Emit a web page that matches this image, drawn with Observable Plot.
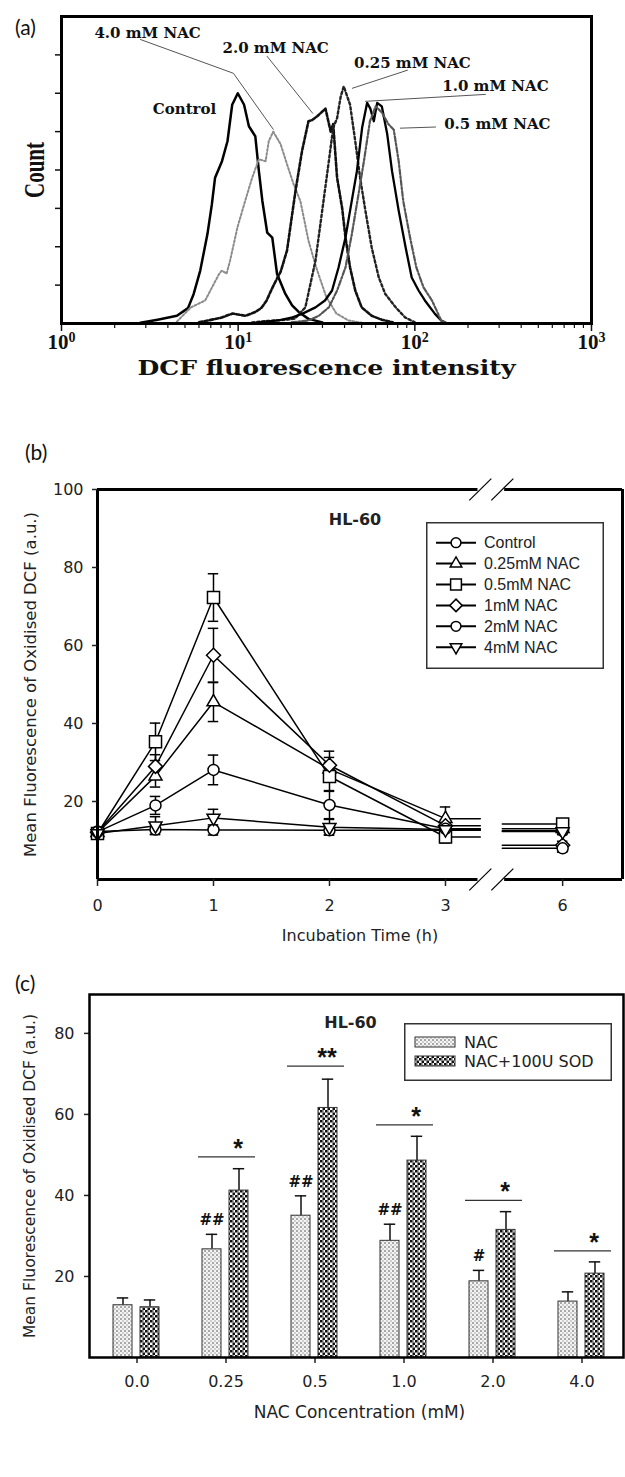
<!DOCTYPE html>
<html>
<head>
<meta charset="utf-8">
<script src="https://cdn.jsdelivr.net/npm/d3@7"></script>
<script src="https://cdn.jsdelivr.net/npm/@observablehq/plot@0.6"></script>
<style>
  body { margin: 0; background: #fff; }
  #root { position: relative; width: 625px; height: 1477px; overflow: hidden; background: #fff; }
  .panel { position: absolute; left: 0; }
  .tag { position: absolute; font-family: Lato, "Open Sans", sans-serif; font-size: 21px; line-height: 21px; color: #111; }
  g[aria-label="annot"] text { letter-spacing: 1.2px; }
</style>
</head>
<body>
<svg width="0" height="0" style="position:absolute">
  <defs>
    <pattern id="patNAC" width="4" height="4" patternUnits="userSpaceOnUse">
      <rect width="4" height="4" fill="#f4f4f4"/>
      <rect width="2" height="2" fill="#a8a8a8"/>
      <rect x="2" y="2" width="2" height="2" fill="#cfcfcf"/>
    </pattern>
    <pattern id="patSOD" width="5" height="5" patternUnits="userSpaceOnUse">
      <rect width="5" height="5" fill="#ffffff"/>
      <rect width="2.5" height="2.5" fill="#111"/>
      <rect x="2.5" y="2.5" width="2.5" height="2.5" fill="#111"/>
      <rect x="2.5" y="0" width="1" height="2.5" fill="#555"/>
    </pattern>
  </defs>
</svg>
<div id="root">
  <div class="tag" style="left:15px;top:16px">(a)</div>
  <div class="tag" style="left:25px;top:441px">(b)</div>
  <div class="tag" style="left:15px;top:972px">(c)</div>
</div>
<script>
// ---------------- Panel (a): DCF histograms ----------------
const histNames = ["Control", "4.0 mM NAC", "2.0 mM NAC", "0.25 mM NAC", "1.0 mM NAC", "0.5 mM NAC"];
const controlX = [2.8, 3.5, 4.5, 5.2, 5.6, 6.1, 6.7, 7.1, 7.4, 8.1, 8.7, 9.25, 9.95, 10.8, 11.5, 12.5, 13.1, 13.7, 14.6, 15.6, 16.6, 18.5, 20.2, 22, 25, 30];
const controlCount = [0.02, 0.1, 0.2, 0.4, 0.77, 1.38, 2.33, 3.11, 3.8, 4.23, 4.75, 5.7, 6.0, 5.7, 5.14, 4.88, 3.97, 3.2, 2.37, 2.24, 1.29, 0.77, 0.47, 0.3, 0.12, 0.03];
const nac40X = [4.5, 5.4, 6.5, 7.8, 8.1, 8.6, 9.0, 9.9, 10.8, 12.0, 13.1, 14.3, 14.9, 15.8, 17.4, 18.9, 20.6, 22.5, 25, 27.7, 31.6, 36, 42, 50];
const nac40Count = [0.05, 0.42, 0.6, 1.29, 1.38, 1.3, 1.64, 2.5, 3.1, 3.8, 4.28, 4.23, 4.75, 5.0, 4.67, 4.15, 3.63, 3.19, 2.16, 1.45, 0.68, 0.26, 0.08, 0.02];
const nac20X = [6, 8, 9.3, 11, 12.5, 13.5, 14.5, 15.5, 16.5, 17.4, 18.9, 21.1, 23, 25, 26.2, 28, 31.2, 33.4, 34.5, 36.3, 38.8, 40.5, 43, 46, 50, 57, 65, 75];
const nac20Count = [0.03, 0.15, 0.26, 0.2, 0.3, 0.4, 0.6, 0.9, 1.15, 1.35, 1.9, 3.45, 4.5, 5.27, 5.3, 5.4, 5.6, 5.0, 5.2, 3.8, 3.0, 2.24, 1.46, 0.86, 0.42, 0.2, 0.1, 0.03];
const nac025X = [12, 16, 19, 21, 24, 27.4, 29.9, 32.6, 34.5, 36.3, 38, 39.6, 43, 46, 49, 52.5, 57, 62.5, 68, 78, 88, 100];
const nac025Count = [0.03, 0.08, 0.1, 0.13, 0.42, 1.64, 2.94, 4.23, 5.1, 5.35, 5.9, 6.18, 5.7, 4.75, 3.8, 2.94, 1.98, 1.2, 0.77, 0.42, 0.16, 0.03];
const nac10X = [13, 17, 20, 23, 27.4, 31, 34, 37, 40.5, 43, 47, 50.3, 53.7, 56, 58.6, 61.2, 65, 69.8, 74.3, 81, 88.7, 96, 105, 114, 130, 141, 150];
const nac10Count = [0.03, 0.08, 0.15, 0.25, 0.42, 0.6, 0.86, 1.46, 2.24, 2.94, 3.97, 5.1, 5.75, 5.6, 5.27, 5.75, 5.66, 4.93, 3.97, 2.94, 1.98, 1.2, 0.86, 0.6, 0.25, 0.08, 0.02];
const nac05X = [20, 25, 28.6, 32.6, 36.3, 40.5, 44, 48, 51.5, 55.7, 60, 65, 71, 76, 81, 86, 94, 102, 112, 125, 141, 150];
const nac05Count = [0.03, 0.08, 0.2, 0.42, 0.86, 1.46, 2.33, 3.37, 4.23, 5.27, 5.66, 5.5, 5.19, 5.05, 4.23, 3.19, 2.24, 1.46, 0.94, 0.6, 0.08, 0.02];
const decadeTicks = [1, 10, 100, 1000];
const countTicks = [1, 2, 3, 4, 5, 6, 7];

// annotation labels (data units) and leader polylines
const annotText = ["4.0 mM NAC", "2.0 mM NAC", "0.25 mM NAC", "1.0 mM NAC", "0.5 mM NAC", "Control"];
const annotX = [3.07, 16.3, 96.9, 286, 293, 4.97];
const annotY = [7.56, 7.17, 6.78, 6.18, 5.19, 5.58];
const leaders = [
  [[2.8, 7.4], [9.4, 6.52], [15.8, 5.06]],
  [[14.6, 6.96], [26.4, 5.48]],
  [[90.8, 6.6], [44.3, 6.13]],
  [[251, 5.97], [52.6, 5.79]],
  [[131, 5.12], [82.8, 5.09]]
];

// ---------------- Panel (b): time course ----------------
const times = [0, 0.5, 1, 2, 3, 6];
const timeSeries = ["Control", "0.25mM NAC", "0.5mM NAC", "1mM NAC", "2mM NAC", "4mM NAC"];
const tcControl = [12.3, 12.8, 12.7, 12.6, 12.6, 12.5];
const tcControlErr = [0.8, 1.2, 1.3, 1.2, 1.0, 0.8];
const tc025 = [12.0, 26.5, 45.5, 28.3, 15.6, 13.0];
const tc025Err = [0.8, 2.8, 5.0, 3.0, 3.0, 0.8];
const tc05 = [11.8, 35.3, 72.3, 26.4, 10.9, 14.2];
const tc05Err = [0.8, 4.8, 6.1, 3.6, 1.5, 1.0];
const tc1 = [12.1, 29.0, 57.5, 29.3, 13.8, 8.8];
const tc1Err = [0.8, 3.0, 6.9, 3.6, 1.5, 1.0];
const tc2 = [12.2, 19.0, 28.1, 19.1, 13.0, 8.0];
const tc2Err = [0.8, 2.3, 3.8, 3.5, 1.5, 1.0];
const tc4 = [11.8, 13.8, 15.8, 13.4, 12.8, 12.3];
const tc4Err = [0.8, 2.3, 2.2, 2.0, 1.5, 0.8];
const yTicksB = [20, 40, 60, 80, 100];

// ---------------- Panel (c): bars ----------------
const concLabels = ["0.0", "0.25", "0.5", "1.0", "2.0", "4.0"];
const nacMean = [12.9, 26.7, 35.0, 28.8, 18.8, 13.8];
const nacErr = [1.8, 3.7, 4.9, 4.1, 2.7, 2.4];
const sodMean = [12.4, 41.2, 61.6, 48.6, 31.5, 20.7];
const sodErr = [1.8, 5.4, 7.1, 6.0, 4.5, 2.9];
const hashLabels = ["", "##", "##", "##", "#", ""];
const sigLabels = ["", "*", "**", "*", "*", "*"];
const sigLevels = [null, 49.5, 71.9, 57.4, 38.8, 26.3];
const yTicksC = [20, 40, 60, 80];

const root = document.getElementById("root");
function place(el, top) {
  const d = document.createElement("div");
  d.className = "panel";
  d.style.top = top + "px";
  d.appendChild(el);
  root.appendChild(d);
}

// ===== build panel (a) =====
const histX = [controlX, nac40X, nac20X, nac025X, nac10X, nac05X];
const histC = [controlCount, nac40Count, nac20Count, nac025Count, nac10Count, nac05Count];
const histStyle = {
  "Control": {stroke: "#000", strokeWidth: 2.5},
  "4.0 mM NAC": {stroke: "#8c8c8c", strokeWidth: 2, strokeDasharray: "2,2"},
  "2.0 mM NAC": {stroke: "#111", strokeWidth: 2.6, strokeDasharray: "3.5,2"},
  "0.25 mM NAC": {stroke: "#222", strokeWidth: 2.4, strokeDasharray: "2.5,2.5"},
  "1.0 mM NAC": {stroke: "#000", strokeWidth: 2.3},
  "0.5 mM NAC": {stroke: "#555", strokeWidth: 2.2, strokeDasharray: "5,2,2,2"}
};
const histMarks = histNames.map((name, k) => {
  const rows = histX[k].map((x, i) => ({x, count: histC[k][i]}));
  return Plot.line(rows, {x: "x", y: "count", ...histStyle[name]});
});
const minorTicks = [];
for (const dec of [1, 10, 100]) for (let m = 2; m <= 9; m++) minorTicks.push(dec * m);
const leaderRows = leaders.flatMap((pts, k) => pts.map(([x, c]) => ({k, x, c})));
const annotRows = annotText.map((t, i) => ({t, x: annotX[i], y: annotY[i]}));

const plotA = Plot.plot({
  width: 625, height: 380,
  marginLeft: 61, marginRight: 34, marginTop: 16, marginBottom: 57,
  x: {type: "log", domain: [1, 1000]},
  y: {domain: [0, 8]},
  style: {fontFamily: "'Liberation Serif', serif", fontSize: "21px", fontWeight: "bold", color: "#111", background: "transparent"},
  marks: [
    ...histMarks,
    Plot.line(leaderRows, {x: "x", y: "c", z: "k", stroke: "#555", strokeWidth: 1}),
    Plot.text(annotRows, {x: "x", y: "y", text: "t", fontFamily: "'DejaVu Serif', serif", fontSize: 15, fontWeight: "bold", textAnchor: "middle", lineAnchor: "middle", fill: "#111", ariaLabel: "annot"}),
    Plot.axisY({ticks: countTicks, tickSize: 6, tickFormat: () => "", label: null, strokeWidth: 1.5}),
    Plot.axisX({ticks: minorTicks, tickSize: 5, tickFormat: () => "", label: null, strokeWidth: 1.2}),
    Plot.axisX({ticks: decadeTicks, tickSize: 8, tickPadding: 3, tickFormat: d => "10^" + Math.round(Math.log10(d)), label: null, strokeWidth: 1.5}),
    Plot.text(["DCF fluorescence intensity"], {frameAnchor: "bottom", dy: 45, textAnchor: "middle", lineAnchor: "middle", fontFamily: "'DejaVu Serif', serif", fontSize: 20, fontWeight: "bold"}),
    Plot.text(["Count"], {frameAnchor: "left", dx: -27, rotate: -90, textAnchor: "middle", lineAnchor: "middle", fontFamily: "'Liberation Serif', serif", fontSize: 29, fontWeight: "bold"}),
    Plot.frame({strokeWidth: 3, stroke: "#000"})
  ]
});
const svgNS = "http://www.w3.org/2000/svg";
plotA.querySelectorAll("text").forEach(t => {
  const m = t.textContent.match(/^10\^(\d)$/);
  if (m) {
    t.textContent = "10";
    const ts = document.createElementNS(svgNS, "tspan");
    ts.setAttribute("dy", "-0.5em");
    ts.setAttribute("font-size", "14px");
    ts.textContent = m[1];
    t.appendChild(ts);
  } else if (t.textContent === "Count") {
    t.setAttribute("textLength", "56");
    t.setAttribute("lengthAdjust", "spacingAndGlyphs");
  } else if (t.textContent === "DCF fluorescence intensity") {
    t.setAttribute("textLength", "378");
    t.setAttribute("lengthAdjust", "spacingAndGlyphs");
  }
});
place(plotA, 0);

// ===== build panel (b) =====
const breakShift = 1.99;          // 6 h is drawn at 4.01 on the broken axis
const gapL = 3.30, gapR = 3.49;   // axis break edges (x units)
const xMaxB = 4.526;
const tpos = t => t <= 3 ? t : t - breakShift;
const tcVals = [tcControl, tc025, tc05, tc1, tc2, tc4];
const tcErrs = [tcControlErr, tc025Err, tc05Err, tc1Err, tc2Err, tc4Err];

const sqrt3 = Math.sqrt(3);
const triDown = {draw(ctx, size) {
  const s = Math.sqrt(size) * 0.6824, t = s / 2, u = s * sqrt3 / 2;
  ctx.moveTo(0, s); ctx.lineTo(-u, -t); ctx.lineTo(u, -t); ctx.closePath();
}};
const seriesSymbol = [d3.symbolCircle, d3.symbolTriangle2, d3.symbolSquare, d3.symbolDiamond2, d3.symbolCircle, triDown];
const seriesR = [5.5, 6.2, 6.8, 6.3, 5.5, 6.2];

const ptRows = [], lineRows = [];
timeSeries.forEach((s, k) => {
  times.forEach((t, i) => ptRows.push({k, s, x: tpos(t), y: tcVals[k][i], e: tcErrs[k][i]}));
  times.forEach((t, i) => { if (t <= 3) lineRows.push({z: s + "a", x: tpos(t), y: tcVals[k][i]}); });
  lineRows.push({z: s + "a", x: gapL, y: tcVals[k][4]});
  lineRows.push({z: s + "b", x: gapR, y: tcVals[k][5]});
  lineRows.push({z: s + "b", x: tpos(6), y: tcVals[k][5]});
});
const capB = 0.045;
const slashRows = [];
for (const yEdge of [0, 100]) for (const c of [gapL, gapR]) slashRows.push({x1: c - 0.095, y1: yEdge - 2.8, x2: c + 0.095, y2: yEdge + 2.8});
const labelForTime = d => { const t = times.find(t => Math.abs(tpos(t) - d) < 1e-6); return t === undefined ? "" : String(t); };
const timeTicks = [0, 1, 2, 3, 6];

const plotB = Plot.plot({
  width: 625, height: 490,
  marginLeft: 97, marginRight: 3, marginTop: 19, marginBottom: 81,
  x: {domain: [0, xMaxB]},
  y: {domain: [0, 100]},
  style: {fontFamily: "'DejaVu Sans', sans-serif", fontSize: "16px", color: "#222", background: "transparent"},
  marks: [
    Plot.line(lineRows, {x: "x", y: "y", z: "z", stroke: "#000", strokeWidth: 1.5}),
    Plot.ruleX(ptRows, {x: "x", y1: d => d.y - d.e, y2: d => d.y + d.e, stroke: "#000", strokeWidth: 1.5}),
    Plot.ruleY(ptRows, {y: d => d.y + d.e, x1: d => d.x - capB, x2: d => d.x + capB, stroke: "#000", strokeWidth: 1.5}),
    Plot.ruleY(ptRows, {y: d => d.y - d.e, x1: d => d.x - capB, x2: d => d.x + capB, stroke: "#000", strokeWidth: 1.5}),
    ...timeSeries.map((s, k) => Plot.dot(ptRows.filter(d => d.k === k), {x: "x", y: "y", symbol: seriesSymbol[k], r: seriesR[k], fill: "#fff", stroke: "#000", strokeWidth: 1.5})),
    Plot.ruleX([0, xMaxB], {y1: 0, y2: 100, stroke: "#000", strokeWidth: 3}),
    Plot.ruleY([0, 100], {x1: 0, x2: gapL - 0.02, stroke: "#000", strokeWidth: 3}),
    Plot.ruleY([0, 100], {x1: gapR + 0.02, x2: xMaxB, stroke: "#000", strokeWidth: 3}),
    Plot.link(slashRows, {x1: "x1", y1: "y1", x2: "x2", y2: "y2", stroke: "#000", strokeWidth: 1.2}),
    Plot.axisY({ticks: yTicksB, tickSize: 5, tickPadding: 9, label: null, strokeWidth: 1.5}),
    Plot.axisX({ticks: timeTicks.map(tpos), tickSize: 7, tickPadding: 13, tickFormat: labelForTime, label: null, strokeWidth: 1.5}),
    Plot.text(["HL-60"], {frameAnchor: "top", dx: -5, dy: 30, textAnchor: "middle", lineAnchor: "middle", fontWeight: "bold", fontSize: 16}),
    Plot.text(["Incubation Time (h)"], {frameAnchor: "bottom", dy: 56, textAnchor: "middle", lineAnchor: "middle", fontSize: 16}),
    Plot.text(["Mean Fluorescence of Oxidised DCF (a.u.)"], {frameAnchor: "left", dx: -67, rotate: -90, textAnchor: "middle", lineAnchor: "middle", fontSize: 16.5})
  ]
});
place(plotB, 470);

// legend (b)
(function () {
  const w = 178, h = 147;
  const svg = d3.create("svg").attr("width", w).attr("height", h)
    .style("position", "absolute").style("left", "426px").style("top", "522px");
  svg.append("rect").attr("x", 0.75).attr("y", 0.75).attr("width", w - 1.5).attr("height", h - 1.5)
    .attr("fill", "#fff").attr("stroke", "#333").attr("stroke-width", 1.5);
  timeSeries.forEach((s, k) => {
    const cy = 20.7 + 20.9 * k;
    svg.append("line").attr("x1", 10).attr("x2", 50).attr("y1", cy).attr("y2", cy).attr("stroke", "#000").attr("stroke-width", 2);
    svg.append("path").attr("transform", `translate(30,${cy})`)
      .attr("d", d3.symbol(seriesSymbol[k], Math.PI * seriesR[k] * seriesR[k] * 0.8)())
      .attr("fill", "#fff").attr("stroke", "#000").attr("stroke-width", 1.5);
    svg.append("text").attr("x", 58).attr("y", cy).attr("dy", "0.36em")
      .attr("font-family", "'Liberation Sans', Arial, sans-serif").attr("font-size", 16).attr("fill", "#222").text(s);
  });
  root.appendChild(svg.node());
})();

// ===== build panel (c) =====
const nacRows = concLabels.map((c, i) => ({c, m: nacMean[i], e: nacErr[i], hash: hashLabels[i]}));
const sodRows = concLabels.map((c, i) => ({c, m: sodMean[i], e: sodErr[i]}));
const sigRows = concLabels.map((c, i) => ({c, level: sigLevels[i], label: sigLabels[i]})).filter(d => d.level != null);
const hashRows = nacRows.filter(d => d.hash);

const plotC = Plot.plot({
  width: 625, height: 487,
  marginLeft: 89, marginRight: 2, marginTop: 4, marginBottom: 120,
  x: {type: "band", domain: concLabels, range: [90, 628], padding: 0},
  y: {domain: [0, 89.6]},
  style: {fontFamily: "'DejaVu Sans', sans-serif", fontSize: "16px", color: "#222", background: "transparent"},
  marks: [
    Plot.ruleX(nacRows, {x: "c", y1: "m", y2: d => d.m + d.e, dx: -14, stroke: "#111", strokeWidth: 1.5}),
    Plot.tickY(nacRows, {x: "c", y: d => d.m + d.e, dx: -14, insetLeft: 38.8, insetRight: 38.8, stroke: "#111", strokeWidth: 1.5}),
    Plot.ruleX(sodRows, {x: "c", y1: "m", y2: d => d.m + d.e, dx: 13, stroke: "#111", strokeWidth: 1.5}),
    Plot.tickY(sodRows, {x: "c", y: d => d.m + d.e, dx: 13, insetLeft: 38.8, insetRight: 38.8, stroke: "#111", strokeWidth: 1.5}),
    Plot.barY(nacRows, {x: "c", y: "m", insetLeft: 21, insetRight: 49, fill: "url(#patNAC)", stroke: "#333", strokeWidth: 1}),
    Plot.barY(sodRows, {x: "c", y: "m", insetLeft: 48, insetRight: 22, fill: "url(#patSOD)", stroke: "#333", strokeWidth: 1}),
    Plot.tickY(sigRows, {x: "c", y: "level", dx: 1, insetLeft: 16, insetRight: 16, stroke: "#333", strokeWidth: 1.3}),
    Plot.text(sigRows, {x: "c", y: "level", text: "label", dx: 12, dy: -8, textAnchor: "middle", lineAnchor: "middle", fontFamily: "'Liberation Sans', Arial, sans-serif", fontWeight: "bold", fontSize: 25, fill: "#111"}),
    Plot.text(hashRows, {x: "c", y: d => d.m + d.e, text: "hash", dx: -14, dy: -14, textAnchor: "middle", lineAnchor: "middle", fontWeight: "bold", fontSize: 15, fill: "#111"}),
    Plot.axisY({ticks: yTicksC, tickSize: 5, tickPadding: 10, label: null, strokeWidth: 1.5}),
    Plot.axisX({tickSize: 6, tickPadding: 12, label: null, strokeWidth: 1.5}),
    Plot.text(["HL-60"], {frameAnchor: "top", dx: -6, dy: 28, textAnchor: "middle", lineAnchor: "middle", fontWeight: "bold", fontSize: 16}),
    Plot.text(["NAC Concentration (mM)"], {frameAnchor: "bottom", dx: 3, dy: 55, textAnchor: "middle", lineAnchor: "middle", fontSize: 17}),
    Plot.text(["Mean Fluorescence of Oxidised DCF (a.u.)"], {frameAnchor: "left", dx: -59, rotate: -90, textAnchor: "middle", lineAnchor: "middle", fontSize: 15.5}),
    Plot.frame({stroke: "#000", strokeWidth: 2.5})
  ]
});
place(plotC, 990);

// legend (c)
(function () {
  const w = 208, h = 58;
  const svg = d3.create("svg").attr("width", w).attr("height", h)
    .style("position", "absolute").style("left", "404px").style("top", "1023px");
  svg.append("rect").attr("x", 0.75).attr("y", 0.75).attr("width", w - 1.5).attr("height", h - 1.5)
    .attr("fill", "#fff").attr("stroke", "#333").attr("stroke-width", 1.5);
  const items = [["NAC", "url(#patNAC)"], ["NAC+100U SOD", "url(#patSOD)"]];
  items.forEach(([label, fill], k) => {
    const cy = 19 + 19 * k;
    svg.append("rect").attr("x", 11).attr("y", cy - 5).attr("width", 40).attr("height", 10)
      .attr("fill", fill).attr("stroke", "#333").attr("stroke-width", 1);
    svg.append("text").attr("x", 60).attr("y", cy).attr("dy", "0.36em")
      .attr("font-family", "'DejaVu Sans', sans-serif").attr("font-size", 16).attr("fill", "#222").text(label);
  });
  root.appendChild(svg.node());
})();
</script>
</body>
</html>
